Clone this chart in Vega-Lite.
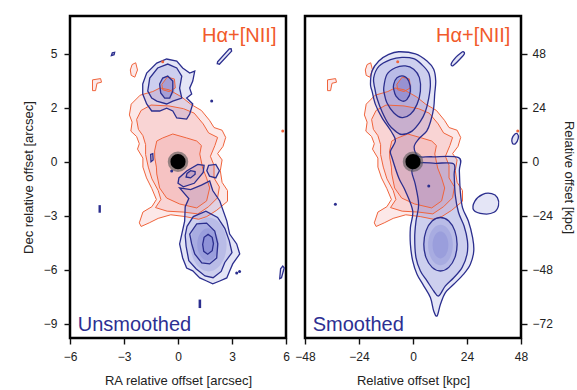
{
"$schema": "https://vega.github.io/schema/vega-lite/v6.json",
"background": "white",
"padding": {"left": 21, "top": 14, "right": 0, "bottom": 1},
"spacing": 19,
"bounds": "flush",
"config": {
  "font": "Liberation Sans",
  "view": {"stroke": "#000000", "strokeWidth": 2.5},
  "axis": {"domain": false, "grid": false, "ticks": true, "tickColor": "#111111", "tickWidth": 1.4, "tickSize": 6, "labelFont": "Liberation Sans", "labelFontSize": 12, "labelColor": "#222222", "labelPadding": 5, "labelFlush": false, "labelOverlap": false, "titleFont": "Liberation Sans", "titleFontSize": 13, "titleFontWeight": "normal", "titleColor": "#222222"}
},
"datasets": {
"L": [
{"c":"r1","t":"r","o":0,"x":-1.4,"y":3.9},{"c":"r1","t":"r","o":1,"x":-2.1,"y":3.7},{"c":"r1","t":"r","o":2,"x":-2.6,"y":3.2},{"c":"r1","t":"r","o":3,"x":-2.7,"y":2.6},{"c":"r1","t":"r","o":4,"x":-2.55,"y":2.2},{"c":"r1","t":"r","o":5,"x":-2.62,"y":1.7},{"c":"r1","t":"r","o":6,"x":-2.3,"y":1.4},{"c":"r1","t":"r","o":7,"x":-2.15,"y":1.0},{"c":"r1","t":"r","o":8,"x":-2.25,"y":0.7},{"c":"r1","t":"r","o":9,"x":-1.95,"y":0.2},{"c":"r1","t":"r","o":10,"x":-1.95,"y":-0.3},{"c":"r1","t":"r","o":11,"x":-1.75,"y":-0.9},{"c":"r1","t":"r","o":12,"x":-1.45,"y":-1.5},{"c":"r1","t":"r","o":13,"x":-1.2,"y":-2.1},{"c":"r1","t":"r","o":14,"x":-1.45,"y":-2.5},{"c":"r1","t":"r","o":15,"x":-1.95,"y":-2.8},{"c":"r1","t":"r","o":16,"x":-2.15,"y":-3.4},{"c":"r1","t":"r","o":17,"x":-2.05,"y":-3.6},{"c":"r1","t":"r","o":18,"x":-1.6,"y":-3.4},{"c":"r1","t":"r","o":19,"x":-1.1,"y":-3.15},{"c":"r1","t":"r","o":20,"x":-0.4,"y":-2.95},{"c":"r1","t":"r","o":21,"x":0.4,"y":-3.05},{"c":"r1","t":"r","o":22,"x":1.15,"y":-3.2},{"c":"r1","t":"r","o":23,"x":1.6,"y":-3.05},{"c":"r1","t":"r","o":24,"x":2.15,"y":-2.7},{"c":"r1","t":"r","o":25,"x":2.75,"y":-2.2},{"c":"r1","t":"r","o":26,"x":2.75,"y":-1.6},{"c":"r1","t":"r","o":27,"x":2.45,"y":-1.15},{"c":"r1","t":"r","o":28,"x":2.35,"y":-0.5},{"c":"r1","t":"r","o":29,"x":2.45,"y":0.1},{"c":"r1","t":"r","o":30,"x":2.2,"y":0.45},{"c":"r1","t":"r","o":31,"x":2.5,"y":0.85},{"c":"r1","t":"r","o":32,"x":2.65,"y":1.35},{"c":"r1","t":"r","o":33,"x":2.45,"y":1.75},{"c":"r1","t":"r","o":34,"x":2.0,"y":1.9},{"c":"r1","t":"r","o":35,"x":1.75,"y":2.3},{"c":"r1","t":"r","o":36,"x":1.3,"y":2.85},{"c":"r1","t":"r","o":37,"x":0.7,"y":3.2},{"c":"r1","t":"r","o":38,"x":0.2,"y":3.6},{"c":"r1","t":"r","o":39,"x":-0.5,"y":4.0},{"c":"r1","t":"r","o":40,"x":-1.0,"y":4.1},
{"c":"r2","t":"r","o":0,"x":-1.5,"y":3.15},{"c":"r2","t":"r","o":1,"x":-2.05,"y":2.85},{"c":"r2","t":"r","o":2,"x":-2.3,"y":2.35},{"c":"r2","t":"r","o":3,"x":-2.2,"y":1.8},{"c":"r2","t":"r","o":4,"x":-1.95,"y":1.45},{"c":"r2","t":"r","o":5,"x":-1.8,"y":0.95},{"c":"r2","t":"r","o":6,"x":-1.8,"y":0.4},{"c":"r2","t":"r","o":7,"x":-1.65,"y":-0.3},{"c":"r2","t":"r","o":8,"x":-1.45,"y":-0.95},{"c":"r2","t":"r","o":9,"x":-1.1,"y":-1.6},{"c":"r2","t":"r","o":10,"x":-0.95,"y":-2.1},{"c":"r2","t":"r","o":11,"x":-1.25,"y":-2.55},{"c":"r2","t":"r","o":12,"x":-0.6,"y":-2.75},{"c":"r2","t":"r","o":13,"x":0.3,"y":-2.8},{"c":"r2","t":"r","o":14,"x":1.1,"y":-2.9},{"c":"r2","t":"r","o":15,"x":1.7,"y":-2.5},{"c":"r2","t":"r","o":16,"x":2.2,"y":-2.0},{"c":"r2","t":"r","o":17,"x":2.3,"y":-1.4},{"c":"r2","t":"r","o":18,"x":2.0,"y":-0.9},{"c":"r2","t":"r","o":19,"x":2.0,"y":-0.2},{"c":"r2","t":"r","o":20,"x":1.8,"y":0.3},{"c":"r2","t":"r","o":21,"x":2.05,"y":0.9},{"c":"r2","t":"r","o":22,"x":2.2,"y":1.35},{"c":"r2","t":"r","o":23,"x":1.7,"y":1.6},{"c":"r2","t":"r","o":24,"x":1.4,"y":2.1},{"c":"r2","t":"r","o":25,"x":0.9,"y":2.7},{"c":"r2","t":"r","o":26,"x":0.3,"y":2.95},{"c":"r2","t":"r","o":27,"x":-0.5,"y":3.1},
{"c":"r3","t":"r","o":0,"x":-1.18,"y":1.15},{"c":"r3","t":"r","o":1,"x":-1.3,"y":0.6},{"c":"r3","t":"r","o":2,"x":-1.29,"y":0.21},{"c":"r3","t":"r","o":3,"x":-1.2,"y":-0.3},{"c":"r3","t":"r","o":4,"x":-1.18,"y":-0.68},{"c":"r3","t":"r","o":5,"x":-1.02,"y":-1.46},{"c":"r3","t":"r","o":6,"x":-0.63,"y":-2.02},{"c":"r3","t":"r","o":7,"x":0.09,"y":-2.35},{"c":"r3","t":"r","o":8,"x":1.04,"y":-2.57},{"c":"r3","t":"r","o":9,"x":1.59,"y":-2.18},{"c":"r3","t":"r","o":10,"x":1.76,"y":-1.46},{"c":"r3","t":"r","o":11,"x":1.59,"y":-0.91},{"c":"r3","t":"r","o":12,"x":1.37,"y":-0.35},{"c":"r3","t":"r","o":13,"x":1.21,"y":0.43},{"c":"r3","t":"r","o":14,"x":1.3,"y":0.9},{"c":"r3","t":"r","o":15,"x":1.04,"y":1.15},{"c":"r3","t":"r","o":16,"x":0.48,"y":1.32},{"c":"r3","t":"r","o":17,"x":-0.29,"y":1.54},{"c":"r3","t":"r","o":18,"x":-0.85,"y":1.32},
{"c":"r4","t":"r","o":0,"x":-0.9,"y":4.3},{"c":"r4","t":"r","o":1,"x":-0.6,"y":4.7},{"c":"r4","t":"r","o":2,"x":-0.2,"y":4.6},{"c":"r4","t":"r","o":3,"x":-0.15,"y":4.1},{"c":"r4","t":"r","o":4,"x":-0.5,"y":3.9},{"c":"r4","t":"r","o":5,"x":-0.85,"y":4.0},
{"c":"r5","t":"r","o":0,"x":-2.55,"y":5.4},{"c":"r5","t":"r","o":1,"x":-2.35,"y":5.5},{"c":"r5","t":"r","o":2,"x":-2.25,"y":5.1},{"c":"r5","t":"r","o":3,"x":-2.4,"y":4.7},{"c":"r5","t":"r","o":4,"x":-2.6,"y":4.8},{"c":"r5","t":"r","o":5,"x":-2.65,"y":5.1},
{"c":"r6","t":"r","o":0,"x":-4.75,"y":4.55},{"c":"r6","t":"r","o":1,"x":-4.3,"y":4.62},{"c":"r6","t":"r","o":2,"x":-4.25,"y":4.42},{"c":"r6","t":"r","o":3,"x":-4.5,"y":4.36},{"c":"r6","t":"r","o":4,"x":-4.58,"y":3.95},{"c":"r6","t":"r","o":5,"x":-4.75,"y":3.95},
{"c":"b1","t":"b","o":0,"x":-1.96,"y":4.32},{"c":"b1","t":"b","o":1,"x":-1.74,"y":4.93},{"c":"b1","t":"b","o":2,"x":-1.18,"y":5.48},{"c":"b1","t":"b","o":3,"x":-0.63,"y":5.71},{"c":"b1","t":"b","o":4,"x":-0.07,"y":5.59},{"c":"b1","t":"b","o":5,"x":0.26,"y":5.21},{"c":"b1","t":"b","o":6,"x":0.65,"y":4.93},{"c":"b1","t":"b","o":7,"x":0.93,"y":5.04},{"c":"b1","t":"b","o":8,"x":0.82,"y":4.48},{"c":"b1","t":"b","o":9,"x":0.65,"y":4.09},{"c":"b1","t":"b","o":10,"x":0.76,"y":3.76},{"c":"b1","t":"b","o":11,"x":0.48,"y":3.54},{"c":"b1","t":"b","o":12,"x":0.82,"y":3.21},{"c":"b1","t":"b","o":13,"x":0.65,"y":2.65},{"c":"b1","t":"b","o":14,"x":0.48,"y":2.37},{"c":"b1","t":"b","o":15,"x":-0.07,"y":2.43},{"c":"b1","t":"b","o":16,"x":-0.29,"y":2.82},{"c":"b1","t":"b","o":17,"x":-0.63,"y":2.98},{"c":"b1","t":"b","o":18,"x":-1.02,"y":2.82},{"c":"b1","t":"b","o":19,"x":-1.46,"y":2.82},{"c":"b1","t":"b","o":20,"x":-1.74,"y":3.21},{"c":"b1","t":"b","o":21,"x":-1.96,"y":3.76},
{"c":"b2","t":"b","o":0,"x":-1.68,"y":3.93},{"c":"b2","t":"b","o":1,"x":-1.57,"y":4.65},{"c":"b2","t":"b","o":2,"x":-1.13,"y":5.21},{"c":"b2","t":"b","o":3,"x":-0.57,"y":5.43},{"c":"b2","t":"b","o":4,"x":-0.07,"y":5.21},{"c":"b2","t":"b","o":5,"x":0.21,"y":4.76},{"c":"b2","t":"b","o":6,"x":0.09,"y":4.09},{"c":"b2","t":"b","o":7,"x":0.21,"y":3.54},{"c":"b2","t":"b","o":8,"x":-0.29,"y":3.37},{"c":"b2","t":"b","o":9,"x":-0.63,"y":3.21},{"c":"b2","t":"b","o":10,"x":-1.18,"y":3.37},{"c":"b2","t":"b","o":11,"x":-1.46,"y":3.54},
{"c":"b3","t":"b","o":0,"x":-1.02,"y":4.32},{"c":"b3","t":"b","o":1,"x":-0.85,"y":4.65},{"c":"b3","t":"b","o":2,"x":-0.57,"y":4.76},{"c":"b3","t":"b","o":3,"x":-0.29,"y":4.48},{"c":"b3","t":"b","o":4,"x":-0.29,"y":3.93},{"c":"b3","t":"b","o":5,"x":-0.46,"y":3.54},{"c":"b3","t":"b","o":6,"x":-0.74,"y":3.54},{"c":"b3","t":"b","o":7,"x":-0.96,"y":3.82},
{"c":"b4","t":"b","o":0,"x":0.0,"y":-1.2},{"c":"b4","t":"b","o":1,"x":0.3,"y":-1.4},{"c":"b4","t":"b","o":2,"x":0.9,"y":-1.2},{"c":"b4","t":"b","o":3,"x":1.4,"y":-0.6},{"c":"b4","t":"b","o":4,"x":1.45,"y":-0.2},{"c":"b4","t":"b","o":5,"x":1.1,"y":-0.15},{"c":"b4","t":"b","o":6,"x":0.5,"y":-0.5},{"c":"b4","t":"b","o":7,"x":0.05,"y":-0.9},
{"c":"b5","t":"b","o":0,"x":0.45,"y":-0.85},{"c":"b5","t":"b","o":1,"x":0.7,"y":-0.9},{"c":"b5","t":"b","o":2,"x":0.95,"y":-0.7},{"c":"b5","t":"b","o":3,"x":0.95,"y":-0.55},{"c":"b5","t":"b","o":4,"x":0.7,"y":-0.5},{"c":"b5","t":"b","o":5,"x":0.5,"y":-0.65},
{"c":"b6","t":"b","o":0,"x":1.7,"y":-0.2},{"c":"b6","t":"b","o":1,"x":2.1,"y":-0.15},{"c":"b6","t":"b","o":2,"x":2.3,"y":-0.5},{"c":"b6","t":"b","o":3,"x":2.1,"y":-0.9},{"c":"b6","t":"b","o":4,"x":1.75,"y":-0.8},{"c":"b6","t":"b","o":5,"x":1.6,"y":-0.5},
{"c":"b7","t":"b","o":0,"x":0.09,"y":-1.46},{"c":"b7","t":"b","o":1,"x":0.7,"y":-1.55},{"c":"b7","t":"b","o":2,"x":1.3,"y":-1.3},{"c":"b7","t":"b","o":3,"x":1.76,"y":-1.07},{"c":"b7","t":"b","o":4,"x":1.93,"y":-1.6},{"c":"b7","t":"b","o":5,"x":2.32,"y":-2.18},{"c":"b7","t":"b","o":6,"x":2.71,"y":-3.29},{"c":"b7","t":"b","o":7,"x":2.87,"y":-4.02},{"c":"b7","t":"b","o":8,"x":3.26,"y":-4.57},{"c":"b7","t":"b","o":9,"x":3.43,"y":-5.13},{"c":"b7","t":"b","o":10,"x":3.04,"y":-5.68},{"c":"b7","t":"b","o":11,"x":2.87,"y":-6.07},{"c":"b7","t":"b","o":12,"x":2.71,"y":-6.46},{"c":"b7","t":"b","o":13,"x":2.32,"y":-6.63},{"c":"b7","t":"b","o":14,"x":1.93,"y":-6.79},{"c":"b7","t":"b","o":15,"x":1.59,"y":-6.63},{"c":"b7","t":"b","o":16,"x":1.21,"y":-6.46},{"c":"b7","t":"b","o":17,"x":0.82,"y":-6.07},{"c":"b7","t":"b","o":18,"x":0.48,"y":-5.91},{"c":"b7","t":"b","o":19,"x":0.26,"y":-5.35},{"c":"b7","t":"b","o":20,"x":0.09,"y":-4.57},{"c":"b7","t":"b","o":21,"x":0.21,"y":-4.02},{"c":"b7","t":"b","o":22,"x":0.37,"y":-3.3},{"c":"b7","t":"b","o":23,"x":0.4,"y":-2.5},{"c":"b7","t":"b","o":24,"x":0.6,"y":-2.05},
{"c":"b8","t":"b","o":0,"x":0.5,"y":-3.6},{"c":"b8","t":"b","o":1,"x":0.85,"y":-3.05},{"c":"b8","t":"b","o":2,"x":1.55,"y":-2.75},{"c":"b8","t":"b","o":3,"x":2.2,"y":-3.1},{"c":"b8","t":"b","o":4,"x":2.6,"y":-3.7},{"c":"b8","t":"b","o":5,"x":2.85,"y":-4.4},{"c":"b8","t":"b","o":6,"x":3.0,"y":-5.05},{"c":"b8","t":"b","o":7,"x":2.6,"y":-5.6},{"c":"b8","t":"b","o":8,"x":2.4,"y":-6.1},{"c":"b8","t":"b","o":9,"x":1.95,"y":-6.45},{"c":"b8","t":"b","o":10,"x":1.5,"y":-6.35},{"c":"b8","t":"b","o":11,"x":1.0,"y":-5.95},{"c":"b8","t":"b","o":12,"x":0.6,"y":-5.5},{"c":"b8","t":"b","o":13,"x":0.45,"y":-4.7},{"c":"b8","t":"b","o":14,"x":0.4,"y":-4.1},
{"c":"b9","t":"b","o":0,"x":0.65,"y":-4.02},{"c":"b9","t":"b","o":1,"x":1.04,"y":-3.46},{"c":"b9","t":"b","o":2,"x":1.59,"y":-3.41},{"c":"b9","t":"b","o":3,"x":2.04,"y":-3.85},{"c":"b9","t":"b","o":4,"x":2.21,"y":-4.57},{"c":"b9","t":"b","o":5,"x":2.15,"y":-5.35},{"c":"b9","t":"b","o":6,"x":1.76,"y":-5.68},{"c":"b9","t":"b","o":7,"x":1.32,"y":-5.63},{"c":"b9","t":"b","o":8,"x":0.93,"y":-5.13},{"c":"b9","t":"b","o":9,"x":0.76,"y":-4.57},
{"c":"b10","t":"b","o":0,"x":1.67,"y":-4.04},{"c":"b10","t":"b","o":1,"x":1.9,"y":-4.2},{"c":"b10","t":"b","o":2,"x":1.97,"y":-4.55},{"c":"b10","t":"b","o":3,"x":1.9,"y":-4.95},{"c":"b10","t":"b","o":4,"x":1.65,"y":-5.14},{"c":"b10","t":"b","o":5,"x":1.43,"y":-4.98},{"c":"b10","t":"b","o":6,"x":1.37,"y":-4.6},{"c":"b10","t":"b","o":7,"x":1.45,"y":-4.2},
{"c":"s1","t":"b","o":0,"x":-3.7,"y":5.9},{"c":"s1","t":"b","o":1,"x":-3.55,"y":5.95},{"c":"s1","t":"b","o":2,"x":-3.52,"y":6.08},{"c":"s1","t":"b","o":3,"x":-3.65,"y":6.05},
{"c":"s2","t":"b","o":0,"x":2.18,"y":5.45},{"c":"s2","t":"b","o":1,"x":2.3,"y":5.42},{"c":"s2","t":"b","o":2,"x":2.98,"y":6.15},{"c":"s2","t":"b","o":3,"x":2.95,"y":6.28},{"c":"s2","t":"b","o":4,"x":2.85,"y":6.27},{"c":"s2","t":"b","o":5,"x":2.2,"y":5.55},
{"c":"s3","t":"b","o":0,"x":-1.5,"y":0.0},{"c":"s3","t":"b","o":1,"x":-1.38,"y":0.1},{"c":"s3","t":"b","o":2,"x":-1.4,"y":0.45},{"c":"s3","t":"b","o":3,"x":-1.52,"y":0.4},
{"c":"s4","t":"b","o":0,"x":5.65,"y":-6.5},{"c":"s4","t":"b","o":1,"x":5.75,"y":-6.45},{"c":"s4","t":"b","o":2,"x":5.9,"y":-5.9},{"c":"s4","t":"b","o":3,"x":5.82,"y":-5.8},{"c":"s4","t":"b","o":4,"x":5.7,"y":-5.95},
{"c":"d1","t":"b","o":0,"x":-4.38,"y":-2.45},{"c":"d1","t":"b","o":1,"x":-4.32,"y":-2.45},{"c":"d1","t":"b","o":2,"x":-4.32,"y":-2.8},{"c":"d1","t":"b","o":3,"x":-4.38,"y":-2.8},
{"c":"d2","t":"b","o":0,"x":1.18,"y":-7.7},{"c":"d2","t":"b","o":1,"x":1.25,"y":-7.7},{"c":"d2","t":"b","o":2,"x":1.25,"y":-8.1},{"c":"d2","t":"b","o":3,"x":1.18,"y":-8.1},
{"c":"gs","t":"g","o":0,"x":2.27,"y":-4.6},{"c":"gs","t":"g","o":1,"x":2.19,"y":-4.15},{"c":"gs","t":"g","o":2,"x":1.97,"y":-3.82},{"c":"gs","t":"g","o":3,"x":1.67,"y":-3.7},{"c":"gs","t":"g","o":4,"x":1.37,"y":-3.82},{"c":"gs","t":"g","o":5,"x":1.15,"y":-4.15},{"c":"gs","t":"g","o":6,"x":1.07,"y":-4.6},{"c":"gs","t":"g","o":7,"x":1.15,"y":-5.05},{"c":"gs","t":"g","o":8,"x":1.37,"y":-5.38},{"c":"gs","t":"g","o":9,"x":1.67,"y":-5.5},{"c":"gs","t":"g","o":10,"x":1.97,"y":-5.38},{"c":"gs","t":"g","o":11,"x":2.19,"y":-5.05},
{"c":"gs2","t":"g","o":0,"x":2.7,"y":-4.6},{"c":"gs2","t":"g","o":1,"x":2.57,"y":-3.85},{"c":"gs2","t":"g","o":2,"x":2.2,"y":-3.3},{"c":"gs2","t":"g","o":3,"x":1.7,"y":-3.1},{"c":"gs2","t":"g","o":4,"x":1.2,"y":-3.3},{"c":"gs2","t":"g","o":5,"x":0.83,"y":-3.85},{"c":"gs2","t":"g","o":6,"x":0.7,"y":-4.6},{"c":"gs2","t":"g","o":7,"x":0.83,"y":-5.35},{"c":"gs2","t":"g","o":8,"x":1.2,"y":-5.9},{"c":"gs2","t":"g","o":9,"x":1.7,"y":-6.1},{"c":"gs2","t":"g","o":10,"x":2.2,"y":-5.9},{"c":"gs2","t":"g","o":11,"x":2.57,"y":-5.35},
{"c":"gn","t":"g","o":0,"x":-0.15,"y":4.15},{"c":"gn","t":"g","o":1,"x":-0.21,"y":4.45},{"c":"gn","t":"g","o":2,"x":-0.38,"y":4.67},{"c":"gn","t":"g","o":3,"x":-0.6,"y":4.75},{"c":"gn","t":"g","o":4,"x":-0.83,"y":4.67},{"c":"gn","t":"g","o":5,"x":-0.99,"y":4.45},{"c":"gn","t":"g","o":6,"x":-1.05,"y":4.15},{"c":"gn","t":"g","o":7,"x":-0.99,"y":3.85},{"c":"gn","t":"g","o":8,"x":-0.83,"y":3.63},{"c":"gn","t":"g","o":9,"x":-0.6,"y":3.55},{"c":"gn","t":"g","o":10,"x":-0.38,"y":3.63},{"c":"gn","t":"g","o":11,"x":-0.21,"y":3.85}
],
"DL": [
{"x":1.87,"y":3.37,"t":"b"},{"x":-0.35,"y":-0.52,"t":"b"},{"x":3.26,"y":-6.18,"t":"b"},{"x":3.42,"y":-6.1,"t":"b"},{"x":5.82,"y":1.71,"t":"r"},{"x":-0.85,"y":5.55,"t":"r"}
],
"TL": [
{"label":"Unsmoothed","k":"name","x":-5.57,"y":-9.4},{"label":"Hα+[NII]","k":"line","x":5.47,"y":6.68}
],
"R": [
{"c":"r1","t":"r","o":0,"x":-11.2,"y":31.2},{"c":"r1","t":"r","o":1,"x":-16.8,"y":29.6},{"c":"r1","t":"r","o":2,"x":-20.8,"y":25.6},{"c":"r1","t":"r","o":3,"x":-21.6,"y":20.8},{"c":"r1","t":"r","o":4,"x":-20.4,"y":17.6},{"c":"r1","t":"r","o":5,"x":-20.96,"y":13.6},{"c":"r1","t":"r","o":6,"x":-18.4,"y":11.2},{"c":"r1","t":"r","o":7,"x":-17.2,"y":8},{"c":"r1","t":"r","o":8,"x":-18,"y":5.6},{"c":"r1","t":"r","o":9,"x":-15.6,"y":1.6},{"c":"r1","t":"r","o":10,"x":-15.6,"y":-2.4},{"c":"r1","t":"r","o":11,"x":-14,"y":-7.2},{"c":"r1","t":"r","o":12,"x":-11.6,"y":-12},{"c":"r1","t":"r","o":13,"x":-9.6,"y":-16.8},{"c":"r1","t":"r","o":14,"x":-11.6,"y":-20},{"c":"r1","t":"r","o":15,"x":-15.6,"y":-22.4},{"c":"r1","t":"r","o":16,"x":-17.2,"y":-27.2},{"c":"r1","t":"r","o":17,"x":-16.4,"y":-28.8},{"c":"r1","t":"r","o":18,"x":-12.8,"y":-27.2},{"c":"r1","t":"r","o":19,"x":-8.8,"y":-25.2},{"c":"r1","t":"r","o":20,"x":-3.2,"y":-23.6},{"c":"r1","t":"r","o":21,"x":3.2,"y":-24.4},{"c":"r1","t":"r","o":22,"x":9.2,"y":-25.6},{"c":"r1","t":"r","o":23,"x":12.8,"y":-24.4},{"c":"r1","t":"r","o":24,"x":17.2,"y":-21.6},{"c":"r1","t":"r","o":25,"x":22,"y":-17.6},{"c":"r1","t":"r","o":26,"x":22,"y":-12.8},{"c":"r1","t":"r","o":27,"x":19.6,"y":-9.2},{"c":"r1","t":"r","o":28,"x":18.8,"y":-4},{"c":"r1","t":"r","o":29,"x":19.6,"y":0.8},{"c":"r1","t":"r","o":30,"x":17.6,"y":3.6},{"c":"r1","t":"r","o":31,"x":20,"y":6.8},{"c":"r1","t":"r","o":32,"x":21.2,"y":10.8},{"c":"r1","t":"r","o":33,"x":19.6,"y":14},{"c":"r1","t":"r","o":34,"x":16,"y":15.2},{"c":"r1","t":"r","o":35,"x":14,"y":18.4},{"c":"r1","t":"r","o":36,"x":10.4,"y":22.8},{"c":"r1","t":"r","o":37,"x":5.6,"y":25.6},{"c":"r1","t":"r","o":38,"x":1.6,"y":28.8},{"c":"r1","t":"r","o":39,"x":-4,"y":32},{"c":"r1","t":"r","o":40,"x":-8,"y":32.8},
{"c":"r2","t":"r","o":0,"x":-12,"y":25.2},{"c":"r2","t":"r","o":1,"x":-16.4,"y":22.8},{"c":"r2","t":"r","o":2,"x":-18.4,"y":18.8},{"c":"r2","t":"r","o":3,"x":-17.6,"y":14.4},{"c":"r2","t":"r","o":4,"x":-15.6,"y":11.6},{"c":"r2","t":"r","o":5,"x":-14.4,"y":7.6},{"c":"r2","t":"r","o":6,"x":-14.4,"y":3.2},{"c":"r2","t":"r","o":7,"x":-13.2,"y":-2.4},{"c":"r2","t":"r","o":8,"x":-11.6,"y":-7.6},{"c":"r2","t":"r","o":9,"x":-8.8,"y":-12.8},{"c":"r2","t":"r","o":10,"x":-7.6,"y":-16.8},{"c":"r2","t":"r","o":11,"x":-10,"y":-20.4},{"c":"r2","t":"r","o":12,"x":-4.8,"y":-22},{"c":"r2","t":"r","o":13,"x":2.4,"y":-22.4},{"c":"r2","t":"r","o":14,"x":8.8,"y":-23.2},{"c":"r2","t":"r","o":15,"x":13.6,"y":-20},{"c":"r2","t":"r","o":16,"x":17.6,"y":-16},{"c":"r2","t":"r","o":17,"x":18.4,"y":-11.2},{"c":"r2","t":"r","o":18,"x":16,"y":-7.2},{"c":"r2","t":"r","o":19,"x":16,"y":-1.6},{"c":"r2","t":"r","o":20,"x":14.4,"y":2.4},{"c":"r2","t":"r","o":21,"x":16.4,"y":7.2},{"c":"r2","t":"r","o":22,"x":17.6,"y":10.8},{"c":"r2","t":"r","o":23,"x":13.6,"y":12.8},{"c":"r2","t":"r","o":24,"x":11.2,"y":16.8},{"c":"r2","t":"r","o":25,"x":7.2,"y":21.6},{"c":"r2","t":"r","o":26,"x":2.4,"y":23.6},{"c":"r2","t":"r","o":27,"x":-4,"y":24.8},
{"c":"r3","t":"r","o":0,"x":-9.44,"y":9.2},{"c":"r3","t":"r","o":1,"x":-10.4,"y":4.8},{"c":"r3","t":"r","o":2,"x":-10.32,"y":1.68},{"c":"r3","t":"r","o":3,"x":-9.6,"y":-2.4},{"c":"r3","t":"r","o":4,"x":-9.44,"y":-5.44},{"c":"r3","t":"r","o":5,"x":-8.16,"y":-11.68},{"c":"r3","t":"r","o":6,"x":-5.04,"y":-16.16},{"c":"r3","t":"r","o":7,"x":0.72,"y":-18.8},{"c":"r3","t":"r","o":8,"x":8.32,"y":-20.56},{"c":"r3","t":"r","o":9,"x":12.72,"y":-17.44},{"c":"r3","t":"r","o":10,"x":14.08,"y":-11.68},{"c":"r3","t":"r","o":11,"x":12.72,"y":-7.28},{"c":"r3","t":"r","o":12,"x":10.96,"y":-2.8},{"c":"r3","t":"r","o":13,"x":9.68,"y":3.44},{"c":"r3","t":"r","o":14,"x":10.4,"y":7.2},{"c":"r3","t":"r","o":15,"x":8.32,"y":9.2},{"c":"r3","t":"r","o":16,"x":3.84,"y":10.56},{"c":"r3","t":"r","o":17,"x":-2.32,"y":12.32},{"c":"r3","t":"r","o":18,"x":-6.8,"y":10.56},
{"c":"r4","t":"r","o":0,"x":-7.2,"y":34.4},{"c":"r4","t":"r","o":1,"x":-4.8,"y":37.6},{"c":"r4","t":"r","o":2,"x":-1.6,"y":36.8},{"c":"r4","t":"r","o":3,"x":-1.2,"y":32.8},{"c":"r4","t":"r","o":4,"x":-4,"y":31.2},{"c":"r4","t":"r","o":5,"x":-6.8,"y":32},
{"c":"r5","t":"r","o":0,"x":-20.4,"y":43.2},{"c":"r5","t":"r","o":1,"x":-18.8,"y":44},{"c":"r5","t":"r","o":2,"x":-18,"y":40.8},{"c":"r5","t":"r","o":3,"x":-19.2,"y":37.6},{"c":"r5","t":"r","o":4,"x":-20.8,"y":38.4},{"c":"r5","t":"r","o":5,"x":-21.2,"y":40.8},
{"c":"r6","t":"r","o":0,"x":-38,"y":36.4},{"c":"r6","t":"r","o":1,"x":-34.4,"y":36.96},{"c":"r6","t":"r","o":2,"x":-34,"y":35.36},{"c":"r6","t":"r","o":3,"x":-36,"y":34.88},{"c":"r6","t":"r","o":4,"x":-36.64,"y":31.6},{"c":"r6","t":"r","o":5,"x":-38,"y":31.6},
{"c":"bs1","t":"b","o":0,"x":-6.36,"y":48.9},{"c":"bs1","t":"b","o":1,"x":1.07,"y":48.0},{"c":"bs1","t":"b","o":2,"x":6.22,"y":44.8},{"c":"bs1","t":"b","o":3,"x":9.2,"y":41.1},{"c":"bs1","t":"b","o":4,"x":10.1,"y":35.9},{"c":"bs1","t":"b","o":5,"x":9.64,"y":30.1},{"c":"bs1","t":"b","o":6,"x":9.2,"y":23.9},{"c":"bs1","t":"b","o":7,"x":7.87,"y":18.1},{"c":"bs1","t":"b","o":8,"x":6.09,"y":13.6},{"c":"bs1","t":"b","o":9,"x":2.53,"y":10.1},{"c":"bs1","t":"b","o":10,"x":0.5,"y":6.5},{"c":"bs1","t":"b","o":11,"x":2.5,"y":2.4},{"c":"bs1","t":"b","o":12,"x":8.3,"y":2.2},{"c":"bs1","t":"b","o":13,"x":20.3,"y":1.8},{"c":"bs1","t":"b","o":14,"x":20.6,"y":-4.1},{"c":"bs1","t":"b","o":15,"x":21.0,"y":-13.0},{"c":"bs1","t":"b","o":16,"x":22.0,"y":-20.4},{"c":"bs1","t":"b","o":17,"x":24.6,"y":-26.4},{"c":"bs1","t":"b","o":18,"x":26.5,"y":-33.8},{"c":"bs1","t":"b","o":19,"x":27.0,"y":-39.7},{"c":"bs1","t":"b","o":20,"x":25.5,"y":-45.6},{"c":"bs1","t":"b","o":21,"x":22.5,"y":-50.0},{"c":"bs1","t":"b","o":22,"x":18.1,"y":-54.5},{"c":"bs1","t":"b","o":23,"x":14.4,"y":-58.2},{"c":"bs1","t":"b","o":24,"x":12.2,"y":-63.4},{"c":"bs1","t":"b","o":25,"x":10.7,"y":-68.6},{"c":"bs1","t":"b","o":26,"x":9.2,"y":-66.4},{"c":"bs1","t":"b","o":27,"x":7.73,"y":-60.4},{"c":"bs1","t":"b","o":28,"x":4.76,"y":-55.2},{"c":"bs1","t":"b","o":29,"x":1.78,"y":-50.0},{"c":"bs1","t":"b","o":30,"x":-0.13,"y":-44.1},{"c":"bs1","t":"b","o":31,"x":-1.16,"y":-36.7},{"c":"bs1","t":"b","o":32,"x":-1.16,"y":-29.3},{"c":"bs1","t":"b","o":33,"x":-0.13,"y":-21.9},{"c":"bs1","t":"b","o":34,"x":-3.38,"y":-13.0},{"c":"bs1","t":"b","o":35,"x":-6.36,"y":-7.11},{"c":"bs1","t":"b","o":36,"x":-9.33,"y":1.78},{"c":"bs1","t":"b","o":37,"x":-10.0,"y":4.76},{"c":"bs1","t":"b","o":38,"x":-7.82,"y":9.2},{"c":"bs1","t":"b","o":39,"x":-9.33,"y":12.9},{"c":"bs1","t":"b","o":40,"x":-13.8,"y":19.6},{"c":"bs1","t":"b","o":41,"x":-16.7,"y":25.5},{"c":"bs1","t":"b","o":42,"x":-18.2,"y":31.4},{"c":"bs1","t":"b","o":43,"x":-18.9,"y":34.4},{"c":"bs1","t":"b","o":44,"x":-18.2,"y":40.3},{"c":"bs1","t":"b","o":45,"x":-15.2,"y":44.8},{"c":"bs1","t":"b","o":46,"x":-10.8,"y":47.7},
{"c":"nb2","t":"b","o":0,"x":-17.5,"y":37.2},{"c":"nb2","t":"b","o":1,"x":-15.2,"y":42.4},{"c":"nb2","t":"b","o":2,"x":-10.0,"y":45.4},{"c":"nb2","t":"b","o":3,"x":-4.89,"y":46.4},{"c":"nb2","t":"b","o":4,"x":0.31,"y":45.8},{"c":"nb2","t":"b","o":5,"x":4.0,"y":43.1},{"c":"nb2","t":"b","o":6,"x":6.98,"y":39.4},{"c":"nb2","t":"b","o":7,"x":7.73,"y":34.2},{"c":"nb2","t":"b","o":8,"x":6.98,"y":28.2},{"c":"nb2","t":"b","o":9,"x":5.51,"y":22.3},{"c":"nb2","t":"b","o":10,"x":3.29,"y":17.9},{"c":"nb2","t":"b","o":11,"x":-0.44,"y":13.6},{"c":"nb2","t":"b","o":12,"x":-4.89,"y":12.1},{"c":"nb2","t":"b","o":13,"x":-7.82,"y":13.6},{"c":"nb2","t":"b","o":14,"x":-10.8,"y":16.6},{"c":"nb2","t":"b","o":15,"x":-13.8,"y":22.3},{"c":"nb2","t":"b","o":16,"x":-16.0,"y":28.2},{"c":"nb2","t":"b","o":17,"x":-17.0,"y":32.7},
{"c":"nb3","t":"b","o":0,"x":-13.0,"y":32.9},{"c":"nb3","t":"b","o":1,"x":-11.6,"y":38.8},{"c":"nb3","t":"b","o":2,"x":-7.82,"y":41.8},{"c":"nb3","t":"b","o":3,"x":-3.38,"y":42.6},{"c":"nb3","t":"b","o":4,"x":0.31,"y":41.1},{"c":"nb3","t":"b","o":5,"x":2.84,"y":37.4},{"c":"nb3","t":"b","o":6,"x":3.29,"y":31.4},{"c":"nb3","t":"b","o":7,"x":1.78,"y":25.5},{"c":"nb3","t":"b","o":8,"x":-1.16,"y":21.1},{"c":"nb3","t":"b","o":9,"x":-4.89,"y":19.6},{"c":"nb3","t":"b","o":10,"x":-8.58,"y":21.8},{"c":"nb3","t":"b","o":11,"x":-11.6,"y":26.2},{"c":"nb3","t":"b","o":12,"x":-12.7,"y":30.0},
{"c":"nb4","t":"b","o":0,"x":-8.58,"y":34.4},{"c":"nb4","t":"b","o":1,"x":-7.11,"y":37.3},{"c":"nb4","t":"b","o":2,"x":-4.13,"y":38.1},{"c":"nb4","t":"b","o":3,"x":-1.91,"y":35.9},{"c":"nb4","t":"b","o":4,"x":-1.16,"y":31.4},{"c":"nb4","t":"b","o":5,"x":-2.67,"y":27.7},{"c":"nb4","t":"b","o":6,"x":-4.89,"y":27.0},{"c":"nb4","t":"b","o":7,"x":-7.56,"y":29.2},{"c":"nb4","t":"b","o":8,"x":-8.58,"y":32.2},
{"c":"sb2","t":"b","o":0,"x":2.5,"y":-0.6},{"c":"sb2","t":"b","o":1,"x":10,"y":-0.7},{"c":"sb2","t":"b","o":2,"x":18.0,"y":-0.9},{"c":"sb2","t":"b","o":3,"x":18.3,"y":-6},{"c":"sb2","t":"b","o":4,"x":18.8,"y":-15},{"c":"sb2","t":"b","o":5,"x":20.2,"y":-22.5},{"c":"sb2","t":"b","o":6,"x":22.7,"y":-28.6},{"c":"sb2","t":"b","o":7,"x":24.2,"y":-35.2},{"c":"sb2","t":"b","o":8,"x":24.0,"y":-41.2},{"c":"sb2","t":"b","o":9,"x":21.8,"y":-47.1},{"c":"sb2","t":"b","o":10,"x":18.1,"y":-51.6},{"c":"sb2","t":"b","o":11,"x":14.4,"y":-55.2},{"c":"sb2","t":"b","o":12,"x":11.4,"y":-59.7},{"c":"sb2","t":"b","o":13,"x":9.2,"y":-57.5},{"c":"sb2","t":"b","o":14,"x":6.22,"y":-53.0},{"c":"sb2","t":"b","o":15,"x":3.29,"y":-48.6},{"c":"sb2","t":"b","o":16,"x":1.33,"y":-42.7},{"c":"sb2","t":"b","o":17,"x":0.76,"y":-33.8},{"c":"sb2","t":"b","o":18,"x":1.33,"y":-26.4},{"c":"sb2","t":"b","o":19,"x":2.5,"y":-19},{"c":"sb2","t":"b","o":20,"x":1.0,"y":-10},{"c":"sb2","t":"b","o":21,"x":-0.5,"y":-4},
{"c":"sb3","t":"b","o":0,"x":19.6,"y":-36.7},{"c":"sb3","t":"b","o":1,"x":18.6,"y":-30.75},{"c":"sb3","t":"b","o":2,"x":15.9,"y":-26.4},{"c":"sb3","t":"b","o":3,"x":12.2,"y":-24.8},{"c":"sb3","t":"b","o":4,"x":8.5,"y":-26.4},{"c":"sb3","t":"b","o":5,"x":5.79,"y":-30.75},{"c":"sb3","t":"b","o":6,"x":4.8,"y":-36.7},{"c":"sb3","t":"b","o":7,"x":5.79,"y":-42.65},{"c":"sb3","t":"b","o":8,"x":8.5,"y":-47.0},{"c":"sb3","t":"b","o":9,"x":12.2,"y":-48.6},{"c":"sb3","t":"b","o":10,"x":15.9,"y":-47.0},{"c":"sb3","t":"b","o":11,"x":18.6,"y":-42.65},
{"c":"e1","t":"b","o":0,"x":17.0,"y":43.6},{"c":"e1","t":"b","o":1,"x":17.6,"y":42.6},{"c":"e1","t":"b","o":2,"x":19.4,"y":44.1},{"c":"e1","t":"b","o":3,"x":22.7,"y":47.7},{"c":"e1","t":"b","o":4,"x":22.4,"y":48.9},{"c":"e1","t":"b","o":5,"x":21.4,"y":48.5},{"c":"e1","t":"b","o":6,"x":19.0,"y":46.4},
{"c":"e2","t":"b","o":0,"x":44.2,"y":8.2},{"c":"e2","t":"b","o":1,"x":45.5,"y":8.0},{"c":"e2","t":"b","o":2,"x":46.8,"y":10.5},{"c":"e2","t":"b","o":3,"x":46.4,"y":12.4},{"c":"e2","t":"b","o":4,"x":45.2,"y":12.2},{"c":"e2","t":"b","o":5,"x":44.0,"y":10.2},
{"c":"e3","t":"b","o":0,"x":27,"y":-21.5},{"c":"e3","t":"b","o":1,"x":27.5,"y":-17.5},{"c":"e3","t":"b","o":2,"x":31,"y":-14.5},{"c":"e3","t":"b","o":3,"x":35,"y":-14.2},{"c":"e3","t":"b","o":4,"x":37.5,"y":-16},{"c":"e3","t":"b","o":5,"x":38,"y":-19.5},{"c":"e3","t":"b","o":6,"x":36,"y":-22.5},{"c":"e3","t":"b","o":7,"x":31.5,"y":-23.2},
{"c":"g1","t":"g","o":0,"x":17.7,"y":-37},{"c":"g1","t":"g","o":1,"x":16.96,"y":-32.5},{"c":"g1","t":"g","o":2,"x":14.95,"y":-29.21},{"c":"g1","t":"g","o":3,"x":12.2,"y":-28},{"c":"g1","t":"g","o":4,"x":9.45,"y":-29.21},{"c":"g1","t":"g","o":5,"x":7.44,"y":-32.5},{"c":"g1","t":"g","o":6,"x":6.7,"y":-37},{"c":"g1","t":"g","o":7,"x":7.44,"y":-41.5},{"c":"g1","t":"g","o":8,"x":9.45,"y":-44.79},{"c":"g1","t":"g","o":9,"x":12.2,"y":-46},{"c":"g1","t":"g","o":10,"x":14.95,"y":-44.79},{"c":"g1","t":"g","o":11,"x":16.96,"y":-41.5},
{"c":"g2","t":"g","o":0,"x":15.7,"y":-37},{"c":"g2","t":"g","o":1,"x":15.23,"y":-34},{"c":"g2","t":"g","o":2,"x":13.95,"y":-31.8},{"c":"g2","t":"g","o":3,"x":12.2,"y":-31},{"c":"g2","t":"g","o":4,"x":10.45,"y":-31.8},{"c":"g2","t":"g","o":5,"x":9.17,"y":-34},{"c":"g2","t":"g","o":6,"x":8.7,"y":-37},{"c":"g2","t":"g","o":7,"x":9.17,"y":-40},{"c":"g2","t":"g","o":8,"x":10.45,"y":-42.2},{"c":"g2","t":"g","o":9,"x":12.2,"y":-43},{"c":"g2","t":"g","o":10,"x":13.95,"y":-42.2},{"c":"g2","t":"g","o":11,"x":15.23,"y":-40},
{"c":"g3","t":"g","o":0,"x":-0.5,"y":32.5},{"c":"g3","t":"g","o":1,"x":-1.04,"y":35},{"c":"g3","t":"g","o":2,"x":-2.5,"y":36.83},{"c":"g3","t":"g","o":3,"x":-4.5,"y":37.5},{"c":"g3","t":"g","o":4,"x":-6.5,"y":36.83},{"c":"g3","t":"g","o":5,"x":-7.96,"y":35},{"c":"g3","t":"g","o":6,"x":-8.5,"y":32.5},{"c":"g3","t":"g","o":7,"x":-7.96,"y":30},{"c":"g3","t":"g","o":8,"x":-6.5,"y":28.17},{"c":"g3","t":"g","o":9,"x":-4.5,"y":27.5},{"c":"g3","t":"g","o":10,"x":-2.5,"y":28.17},{"c":"g3","t":"g","o":11,"x":-1.04,"y":30}
],
"DR": [
{"x":-34.5,"y":-18.9,"t":"b"},{"x":7,"y":-10.8,"t":"b"},{"x":46.56,"y":13.68,"t":"r"},{"x":-6.8,"y":44.4,"t":"r"}
],
"TR": [
{"label":"Smoothed","k":"name","x":-44.6,"y":-75.2},{"label":"Hα+[NII]","k":"line","x":43.3,"y":53.4}
]
},
"hconcat": [
{
  "width": 216, "height": 322,
  "encoding": {
    "x": {"field": "x", "type": "quantitative", "scale": {"domain": [-6, 6], "nice": false, "zero": false}, "axis": {"values": [-6, -3, 0, 3, 6], "title": "RA relative offset [arcsec]", "labelPadding": 7, "titlePadding": 12}},
    "y": {"field": "y", "type": "quantitative", "scale": {"domain": [-9.8, 8.1], "nice": false, "zero": false}, "axis": {"values": [6, 3, 0, -3, -6, -9], "labelExpr": "datum.value == 6 ? '5' : datum.value == 3 ? '2' : datum.label", "title": "Dec relative offset [arcsec]", "labelPadding": 7, "titlePadding": 8}}
  },
  "layer": [
    {"data": {"name": "L"}, "transform": [{"filter": "datum.t == 'r'"}], "mark": {"type": "line", "interpolate": "linear-closed", "fill": "#eb5a5a", "fillOpacity": 0.14, "strokeOpacity": 0}, "encoding": {"detail": {"field": "c", "type": "nominal"}, "order": {"field": "o", "type": "quantitative"}}},
    {"data": {"name": "L"}, "transform": [{"filter": "datum.t == 'b'"}], "mark": {"type": "line", "interpolate": "linear-closed", "fill": "#4a4fc4", "fillOpacity": 0.15, "strokeOpacity": 0}, "encoding": {"detail": {"field": "c", "type": "nominal"}, "order": {"field": "o", "type": "quantitative"}}},
    {"data": {"name": "L"}, "transform": [{"filter": "datum.t == 'g'"}], "mark": {"type": "line", "interpolate": "cardinal-closed", "fill": "#4a4fc4", "fillOpacity": 0.15, "strokeOpacity": 0}, "encoding": {"detail": {"field": "c", "type": "nominal"}, "order": {"field": "o", "type": "quantitative"}}},
    {"data": {"name": "L"}, "transform": [{"filter": "datum.t == 'r'"}], "mark": {"type": "line", "interpolate": "linear-closed", "stroke": "#f0643c", "strokeWidth": 1}, "encoding": {"detail": {"field": "c", "type": "nominal"}, "order": {"field": "o", "type": "quantitative"}}},
    {"data": {"name": "L"}, "transform": [{"filter": "datum.t == 'b'"}], "mark": {"type": "line", "interpolate": "linear-closed", "stroke": "#2b2e8e", "strokeWidth": 1.3}, "encoding": {"detail": {"field": "c", "type": "nominal"}, "order": {"field": "o", "type": "quantitative"}}},
    {"data": {"name": "DL"}, "mark": {"type": "point", "filled": true, "size": 9, "opacity": 1}, "encoding": {"color": {"field": "t", "type": "nominal", "scale": {"domain": ["r", "b"], "range": ["#f0643c", "#2b2e8e"]}, "legend": null}}},
    {"data": {"values": [{"x": 0, "y": 0}]}, "mark": {"type": "point", "filled": true, "size": 420, "color": "#555555", "opacity": 0.6}},
    {"data": {"values": [{"x": 0, "y": 0}]}, "mark": {"type": "point", "filled": true, "size": 230, "color": "#000000", "opacity": 1}},
    {"data": {"name": "TL"}, "transform": [{"filter": "datum.k == 'name'"}], "mark": {"type": "text", "align": "left", "baseline": "alphabetic", "fontSize": 20, "color": "#2d2f92", "font": "Liberation Sans"}, "encoding": {"text": {"field": "label", "type": "nominal"}}},
    {"data": {"name": "TL"}, "transform": [{"filter": "datum.k == 'line'"}], "mark": {"type": "text", "align": "right", "baseline": "alphabetic", "fontSize": 20, "color": "#f15a2b", "font": "Liberation Sans"}, "encoding": {"text": {"field": "label", "type": "nominal"}}}
  ]
},
{
  "width": 216, "height": 322,
  "encoding": {
    "x": {"field": "x", "type": "quantitative", "scale": {"domain": [-48, 48], "nice": false, "zero": false}, "axis": {"values": [-48, -24, 0, 24, 48], "title": "Relative offset [kpc]", "labelPadding": 7, "titlePadding": 12}},
    "y": {"field": "y", "type": "quantitative", "scale": {"domain": [-78.4, 64.8], "nice": false, "zero": false}, "axis": {"orient": "right", "values": [48, 24, 0, -24, -48, -72], "title": "Relative offset [kpc]", "labelPadding": 5, "titlePadding": 9}}
  },
  "layer": [
    {"data": {"name": "R"}, "transform": [{"filter": "datum.t == 'r'"}], "mark": {"type": "line", "interpolate": "linear-closed", "fill": "#eb5a5a", "fillOpacity": 0.14, "strokeOpacity": 0}, "encoding": {"detail": {"field": "c", "type": "nominal"}, "order": {"field": "o", "type": "quantitative"}}},
    {"data": {"name": "R"}, "transform": [{"filter": "datum.t == 'b' || datum.t == 'g'"}], "mark": {"type": "line", "interpolate": "cardinal-closed", "fill": "#4a4fc4", "fillOpacity": 0.15, "strokeOpacity": 0}, "encoding": {"detail": {"field": "c", "type": "nominal"}, "order": {"field": "o", "type": "quantitative"}}},
    {"data": {"name": "R"}, "transform": [{"filter": "datum.t == 'r'"}], "mark": {"type": "line", "interpolate": "linear-closed", "stroke": "#f0643c", "strokeWidth": 1}, "encoding": {"detail": {"field": "c", "type": "nominal"}, "order": {"field": "o", "type": "quantitative"}}},
    {"data": {"name": "R"}, "transform": [{"filter": "datum.t == 'b'"}], "mark": {"type": "line", "interpolate": "cardinal-closed", "stroke": "#2b2e8e", "strokeWidth": 1.3}, "encoding": {"detail": {"field": "c", "type": "nominal"}, "order": {"field": "o", "type": "quantitative"}}},
    {"data": {"name": "DR"}, "mark": {"type": "point", "filled": true, "size": 9, "opacity": 1}, "encoding": {"color": {"field": "t", "type": "nominal", "scale": {"domain": ["r", "b"], "range": ["#f0643c", "#2b2e8e"]}, "legend": null}}},
    {"data": {"values": [{"x": 0, "y": 0}]}, "mark": {"type": "point", "filled": true, "size": 420, "color": "#555555", "opacity": 0.6}},
    {"data": {"values": [{"x": 0, "y": 0}]}, "mark": {"type": "point", "filled": true, "size": 230, "color": "#000000", "opacity": 1}},
    {"data": {"name": "TR"}, "transform": [{"filter": "datum.k == 'name'"}], "mark": {"type": "text", "align": "left", "baseline": "alphabetic", "fontSize": 20, "color": "#2d2f92", "font": "Liberation Sans"}, "encoding": {"text": {"field": "label", "type": "nominal"}}},
    {"data": {"name": "TR"}, "transform": [{"filter": "datum.k == 'line'"}], "mark": {"type": "text", "align": "right", "baseline": "alphabetic", "fontSize": 20, "color": "#f15a2b", "font": "Liberation Sans"}, "encoding": {"text": {"field": "label", "type": "nominal"}}}
  ]
}
]
}
